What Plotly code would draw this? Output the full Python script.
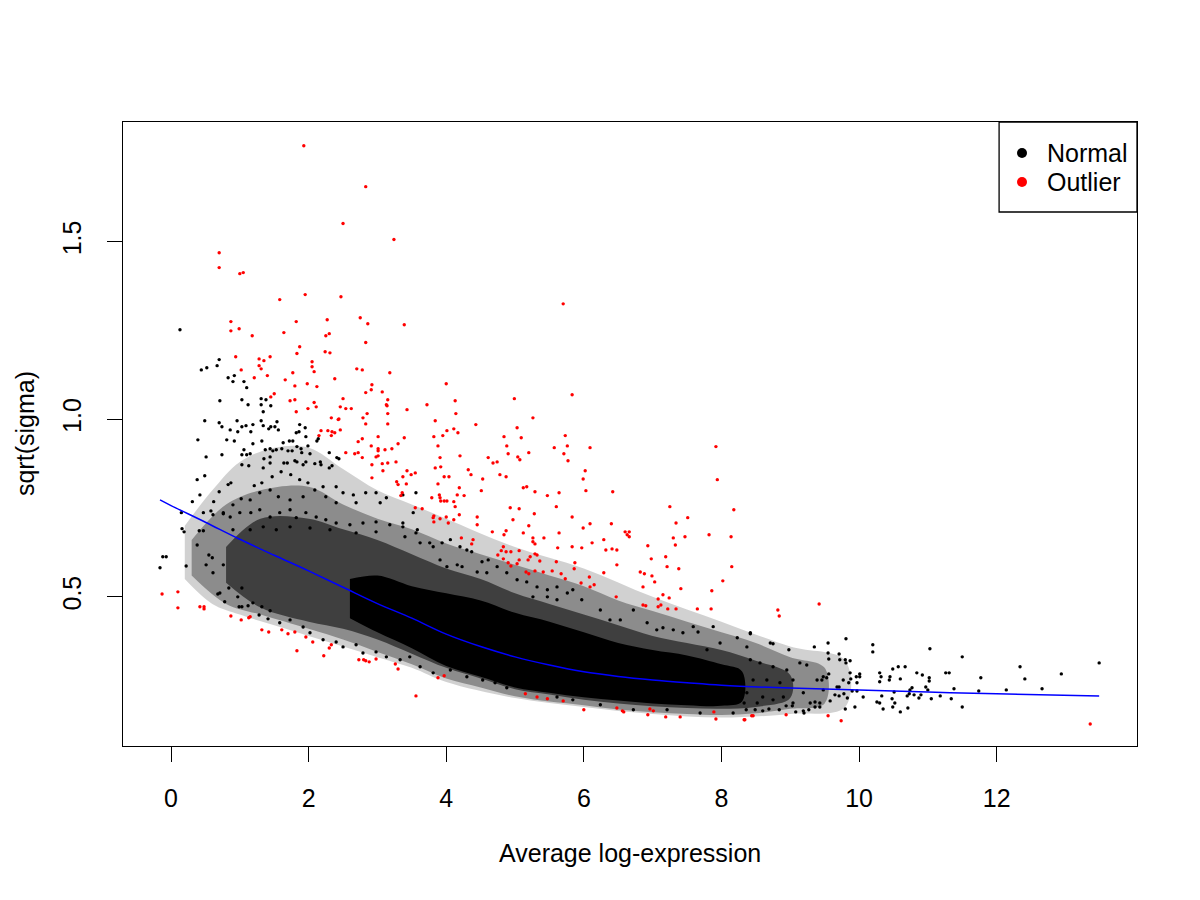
import plotly.graph_objects as go

# ---------------------------------------------------------------
# values (x = average log-expression,
# y = sqrt(sigma)).  The dense central cloud is given as density
# bands (upper / lower edge at a few x positions); the sparse points
# are listed one by one.
# ---------------------------------------------------------------

# outer haze of the cloud (~18 % ink)
haze_x = [0.2, 0.6, 1.0, 1.5, 2.0, 2.5, 3.0, 3.5, 4.0, 5.0, 6.0, 7.0, 8.0, 9.0, 9.8]
haze_top = [0.70, 0.80, 0.88, 0.92, 0.92, 0.86, 0.80, 0.76, 0.72, 0.64, 0.58, 0.50, 0.43, 0.36, 0.32]
haze_bot = [0.55, 0.48, 0.45, 0.42, 0.39, 0.36, 0.33, 0.30, 0.26, 0.215, 0.19, 0.17, 0.16, 0.17, 0.19]

# medium band (~45 % ink)
mid_x = [0.3, 0.8, 1.3, 2.0, 2.5, 3.0, 3.5, 4.0, 4.5, 5.0, 5.5, 6.0, 6.5, 7.0, 7.5, 8.0, 8.5, 9.0, 9.5]
mid_top = [0.66, 0.76, 0.80, 0.81, 0.76, 0.72, 0.69, 0.65, 0.62, 0.59, 0.56, 0.53, 0.49, 0.46,
           0.43, 0.40, 0.37, 0.33, 0.30]
mid_bot = [0.56, 0.48, 0.45, 0.41, 0.38, 0.345, 0.31, 0.27, 0.245, 0.22, 0.205, 0.195, 0.183,
           0.175, 0.17, 0.167, 0.172, 0.185, 0.20]

# dense band (~75 % ink)
dense_x = [0.8, 1.3, 2.0, 2.5, 3.0, 3.5, 4.0, 4.5, 5.0, 5.5, 6.0, 6.5, 7.0, 7.5, 8.0, 8.5, 9.0]
dense_top = [0.64, 0.72, 0.72, 0.69, 0.66, 0.62, 0.58, 0.55, 0.51, 0.48, 0.45, 0.42, 0.39, 0.37,
             0.35, 0.32, 0.28]
dense_bot = [0.54, 0.47, 0.43, 0.41, 0.38, 0.34, 0.30, 0.27, 0.24, 0.225, 0.21, 0.20, 0.192,
             0.187, 0.185, 0.19, 0.215]

# solid core
core_x = [2.6, 3.0, 3.5, 4.0, 4.5, 5.0, 5.5, 6.0, 6.5, 7.0, 7.5, 8.0, 8.3]
core_top = [0.55, 0.56, 0.53, 0.51, 0.49, 0.455, 0.43, 0.40, 0.37, 0.35, 0.335, 0.31, 0.29]
core_bot = [0.44, 0.40, 0.355, 0.305, 0.275, 0.245, 0.23, 0.217, 0.208, 0.20, 0.195, 0.193, 0.205]

# sparse "Normal" points, upper left
normal_upper_left = [
    (0.13, 1.252), (0.70, 1.168), (0.67, 1.151), (0.44, 1.139), (0.52, 1.145), (0.83, 1.117),
    (0.92, 1.123), (0.90, 1.106), (1.06, 1.106), (1.10, 1.089), (0.71, 1.052), (1.03, 1.055),
    (1.12, 1.041), (1.31, 1.058), (1.38, 1.055), (1.31, 1.041), (1.45, 1.038), (1.34, 1.021),
    (0.49, 0.996), (0.70, 0.990), (0.74, 0.979), (0.96, 0.996), (1.03, 0.979), (1.09, 0.982),
    (1.16, 0.965), (1.19, 0.985), (0.86, 0.970), (0.97, 0.965), (1.31, 0.996), (1.34, 0.982),
    (1.42, 0.973), (1.45, 0.979), (1.51, 0.979), (1.54, 0.993), (1.56, 0.970), (1.87, 0.985),
    (1.95, 0.976), (1.82, 0.962), (1.86, 0.965), (1.96, 0.951), (0.39, 0.942), (0.81, 0.942),
    (0.92, 0.939), (1.19, 0.931), (1.32, 0.939), (0.51, 0.894), (0.74, 0.900), (1.06, 0.914),
    (1.15, 0.903), (1.03, 0.900), (1.10, 0.900), (1.37, 0.914), (1.44, 0.917), (1.48, 0.911),
    (1.53, 0.914), (1.35, 0.889), (1.44, 0.894), (1.63, 0.934), (1.72, 0.939), (1.77, 0.939),
    (1.61, 0.917), (1.70, 0.911), (1.76, 0.911), (1.83, 0.923), (1.89, 0.917), (1.90, 0.906),
    (1.99, 0.925), (2.14, 0.945), (2.12, 0.939), (2.02, 0.903), (2.30, 0.906), (2.41, 0.892),
    (2.44, 0.889), (1.03, 0.872), (1.13, 0.869), (1.34, 0.863), (1.44, 0.877), (1.64, 0.877),
    (1.69, 0.877), (1.80, 0.883), (1.83, 0.880), (1.92, 0.872), (1.96, 0.880), (2.09, 0.875),
    (2.17, 0.880), (2.18, 0.872), (2.30, 0.863), (2.34, 0.869),
]

# sparse "Normal" points, left part of the cloud
normal_left = [
    (0.38, 0.830), (0.49, 0.841), (0.31, 0.768), (0.42, 0.787), (0.15, 0.737), (0.58, 0.742),
    (0.70, 0.796), (0.83, 0.816), (0.87, 0.821), (0.62, 0.768), (0.76, 0.734), (-0.16, 0.582),
    (-0.12, 0.613), (-0.07, 0.613), (0.22, 0.587), (0.16, 0.692), (0.19, 0.683), (0.38, 0.646),
    (0.41, 0.686), (0.47, 0.686), (0.51, 0.590), (0.55, 0.618), (0.60, 0.610), (0.61, 0.568),
    (0.76, 0.590), (0.68, 0.508), (0.71, 0.511), (0.78, 0.486), (0.84, 0.525), (0.97, 0.500),
    (1.03, 0.525), (0.99, 0.472), (1.03, 0.472), (1.12, 0.475), (1.19, 0.483), (1.28, 0.449),
    (1.32, 0.472), (1.41, 0.438), (1.44, 0.461),
    (1.21, 0.813), (1.32, 0.821), (1.47, 0.838), (1.60, 0.852), (1.74, 0.844), (1.87, 0.830),
    (1.99, 0.821), (2.09, 0.801), (2.21, 0.810), (2.40, 0.810), (2.50, 0.793), (2.65, 0.787),
    (2.83, 0.793), (2.98, 0.793), (3.13, 0.779), (3.37, 0.787), (3.56, 0.793), (0.90, 0.759),
    (1.02, 0.776), (1.15, 0.773), (1.29, 0.793), (1.44, 0.801), (1.56, 0.782), (1.73, 0.773),
    (1.92, 0.782), (2.25, 0.782), (2.40, 0.765), (2.69, 0.765), (3.04, 0.765),
    (0.47, 0.737), (0.61, 0.731), (0.76, 0.737), (0.86, 0.725), (1.00, 0.737), (1.16, 0.737),
    (1.29, 0.745), (1.44, 0.725), (1.58, 0.737), (1.73, 0.745), (1.82, 0.723), (1.96, 0.737),
    (2.11, 0.725), (2.25, 0.717), (2.40, 0.708), (2.60, 0.703), (2.79, 0.708), (2.98, 0.711),
    (3.18, 0.703), (3.37, 0.697), (3.56, 0.680), (0.90, 0.689), (1.15, 0.689), (1.34, 0.697),
    (1.53, 0.689), (1.73, 0.697), (2.02, 0.694), (2.31, 0.689), (2.69, 0.680), (2.98, 0.683),
    (1.58, 0.427), (1.73, 0.435), (1.92, 0.415), (2.02, 0.399), (2.21, 0.379), (2.40, 0.373),
    (2.50, 0.359), (2.69, 0.365), (2.79, 0.342), (2.98, 0.345), (3.13, 0.331), (3.33, 0.323),
    (3.47, 0.331),
]

# sparse "Normal" points above / below the middle of the cloud
normal_middle = [
    (3.52, 0.737), (3.37, 0.708), (3.58, 0.689), (3.40, 0.669), (3.62, 0.652), (3.76, 0.652),
    (3.81, 0.641), (3.94, 0.652), (4.06, 0.661), (4.20, 0.641), (4.30, 0.632), (4.37, 0.627),
    (4.52, 0.599), (4.61, 0.604), (3.91, 0.604), (4.01, 0.585), (4.16, 0.590), (4.23, 0.585),
    (4.45, 0.570), (4.59, 0.568), (4.74, 0.585), (4.88, 0.568), (5.03, 0.548), (5.17, 0.542),
    (5.32, 0.528), (5.47, 0.520), (5.61, 0.528), (5.76, 0.511), (5.84, 0.520), (5.97, 0.492),
    (5.61, 0.492), (5.47, 0.500), (5.26, 0.500), (6.24, 0.463), (6.38, 0.435), (6.53, 0.435),
    (6.72, 0.463), (6.92, 0.427), (7.06, 0.407), (7.15, 0.413), (7.30, 0.407), (7.44, 0.399),
    (7.59, 0.416), (7.66, 0.401), (7.88, 0.416), (8.42, 0.399), (8.23, 0.385), (8.37, 0.359),
    (7.98, 0.370), (7.79, 0.351),
    (4.71, 0.258), (4.88, 0.244), (5.61, 0.218), (5.84, 0.210), (6.24, 0.196), (6.72, 0.182),
    (7.21, 0.182), (7.69, 0.173), (8.17, 0.173), (3.62, 0.303), (3.81, 0.286), (4.06, 0.294),
    (4.30, 0.275), (4.53, 0.266),
]

# sparse "Normal" points, right tail
normal_right = [
    (8.42, 0.396), (9.81, 0.382), (9.55, 0.370), (9.35, 0.359), (8.98, 0.351), (8.71, 0.370),
    (8.75, 0.368), (10.20, 0.365), (10.20, 0.345), (11.03, 0.354), (11.50, 0.331), (13.49, 0.314),
    (12.34, 0.303), (12.94, 0.283), (12.41, 0.269), (11.77, 0.272), (12.66, 0.241), (12.14, 0.238),
    (11.74, 0.235), (11.50, 0.190), (11.38, 0.241), (11.34, 0.213), (11.18, 0.221), (11.31, 0.286),
    (11.26, 0.286), (11.02, 0.272), (11.02, 0.263), (10.92, 0.280), (10.84, 0.286), (10.97, 0.246),
    (11.00, 0.238), (11.05, 0.213), (10.90, 0.224), (10.74, 0.238), (10.77, 0.244), (10.67, 0.303),
    (10.57, 0.303), (10.49, 0.297), (10.60, 0.269), (10.44, 0.266), (10.45, 0.275), (10.30, 0.286),
    (10.32, 0.275), (10.30, 0.261), (10.33, 0.221), (10.35, 0.184), (10.49, 0.190), (10.60, 0.176),
    (10.71, 0.187), (10.52, 0.201), (10.48, 0.213), (10.26, 0.204), (10.30, 0.201), (10.51, 0.232),
    (10.70, 0.221), (10.73, 0.227), (10.80, 0.224), (10.87, 0.215), (10.06, 0.218), (10.01, 0.283),
    (9.96, 0.275), (9.88, 0.269), (9.85, 0.258), (9.94, 0.190), (9.80, 0.184), (9.97, 0.235),
    (9.90, 0.235), (9.83, 0.215), (9.78, 0.227), (9.77, 0.266), (9.81, 0.314), (9.87, 0.320),
    (9.80, 0.323), (9.72, 0.323), (9.71, 0.339), (9.55, 0.342), (9.56, 0.325), (9.48, 0.275),
    (9.46, 0.266), (9.53, 0.272), (9.56, 0.283), (9.71, 0.246), (9.71, 0.221), (9.65, 0.224),
    (9.58, 0.207), (9.43, 0.201), (9.43, 0.190), (9.36, 0.204), (9.36, 0.190), (9.27, 0.182),
    (9.19, 0.179), (9.20, 0.173), (9.08, 0.176), (9.03, 0.193), (8.94, 0.193), (8.84, 0.182),
    (8.69, 0.184), (8.60, 0.179), (8.49, 0.182), (8.36, 0.182), (8.33, 0.201),
    (8.42, 0.323), (8.56, 0.314), (8.75, 0.303), (8.95, 0.294), (9.14, 0.314), (9.24, 0.308),
    (9.39, 0.266), (9.04, 0.266), (8.85, 0.258), (8.66, 0.266), (8.46, 0.266), (8.37, 0.230),
    (8.60, 0.218), (8.90, 0.218), (9.19, 0.230), (9.48, 0.238), (9.68, 0.246), (9.87, 0.286),
    (9.97, 0.258), (10.01, 0.275), (9.29, 0.201), (9.04, 0.201), (8.75, 0.210), (8.52, 0.201),
]

# "Outlier" points
outlier_high = [
    (1.93, 1.770), (2.83, 1.655), (2.50, 1.551), (3.24, 1.506), (0.70, 1.469), (0.70, 1.427),
    (1.00, 1.410), (1.05, 1.413), (1.58, 1.337), (1.95, 1.351), (2.47, 1.345), (5.70, 1.325),
    (0.87, 1.275), (0.87, 1.249), (0.99, 1.255), (1.18, 1.235), (1.64, 1.244), (1.82, 1.275),
    (2.27, 1.280), (2.25, 1.235), (2.30, 1.241), (2.75, 1.286), (2.86, 1.269), (3.39, 1.266),
    (2.83, 1.216), (1.87, 1.204), (1.83, 1.185), (2.24, 1.190), (2.31, 1.187), (0.94, 1.176),
    (1.28, 1.170), (1.44, 1.176), (1.35, 1.165), (1.28, 1.151), (1.31, 1.142), (1.02, 1.139),
    (1.21, 1.117), (1.40, 1.123), (1.66, 1.111), (1.77, 1.131), (2.05, 1.162), (2.05, 1.148),
    (2.08, 1.134), (1.80, 1.094), (1.98, 1.100), (2.12, 1.092), (2.38, 1.114), (2.70, 1.142),
    (2.78, 1.139), (3.18, 1.131), (2.92, 1.097), (2.91, 1.083), (2.83, 1.075), (3.07, 1.077),
    (1.50, 1.072), (1.45, 1.063), (1.73, 1.052), (1.80, 1.055), (2.08, 1.047), (2.11, 1.035),
    (1.99, 1.030), (1.82, 1.021), (2.50, 1.058), (2.46, 1.035), (2.54, 1.030), (2.62, 1.030),
    (3.15, 1.055), (3.13, 1.041), (3.14, 1.038), (3.43, 1.027), (2.85, 1.016), (3.15, 1.016),
    (2.79, 1.004), (2.83, 0.987), (3.15, 0.987), (2.33, 1.004), (2.44, 1.001), (2.43, 0.999),
    (2.18, 0.968), (2.28, 0.968), (2.38, 0.962), (2.34, 0.965), (2.46, 0.970), (2.33, 0.954),
    (2.15, 0.954), (2.72, 0.937), (2.78, 0.945), (3.01, 0.951), (3.39, 0.948), (3.30, 0.931),
    (2.91, 0.925), (3.01, 0.917), (3.01, 0.911), (3.11, 0.914), (3.21, 0.917), (2.54, 0.906),
    (2.67, 0.903), (2.72, 0.906), (2.78, 0.892), (2.98, 0.894), (3.01, 0.897), (2.92, 0.872),
    (3.07, 0.875), (3.15, 0.877), (3.27, 0.880), (2.92, 0.835), (3.08, 0.855), (3.37, 0.838),
    (3.43, 0.855), (3.49, 0.844), (3.55, 0.849), (3.28, 0.824), (3.30, 0.816), (3.42, 0.818),
    (3.36, 0.793), (3.34, 0.785), (3.55, 0.751), (3.65, 0.748),
    (4.00, 1.100), (5.83, 1.069), (4.99, 1.058), (3.72, 1.041), (4.13, 1.052), (4.14, 1.016),
    (3.84, 0.996), (5.26, 1.004), (4.43, 0.985), (5.03, 0.976), (4.11, 0.973), (4.17, 0.962),
    (4.01, 0.968), (3.95, 0.954), (3.82, 0.951), (4.84, 0.951), (5.09, 0.948), (5.73, 0.954),
    (3.88, 0.925), (4.88, 0.925), (5.76, 0.925), (5.57, 0.920), (6.09, 0.920), (4.90, 0.903),
    (5.20, 0.906), (5.71, 0.903), (5.77, 0.883), (4.20, 0.897), (4.61, 0.892), (5.04, 0.894),
    (5.07, 0.886), (3.91, 0.892), (4.68, 0.877), (4.74, 0.880), (3.84, 0.863), (3.92, 0.866),
    (4.32, 0.858), (6.02, 0.855), (4.36, 0.844), (4.78, 0.844), (4.87, 0.838), (4.53, 0.832),
    (5.99, 0.832), (3.97, 0.838), (4.04, 0.838), (3.88, 0.818), (4.19, 0.807), (4.51, 0.799),
    (5.12, 0.807), (5.17, 0.810), (5.29, 0.796), (5.64, 0.793), (6.03, 0.799), (6.42, 0.796),
    (5.47, 0.785), (4.26, 0.785), (4.16, 0.787), (3.79, 0.779), (3.90, 0.787), (3.91, 0.779),
    (3.92, 0.770), (3.97, 0.770), (4.01, 0.770), (4.11, 0.768), (4.13, 0.754), (4.93, 0.751),
    (5.06, 0.748), (5.60, 0.754), (5.83, 0.725), (5.28, 0.734), (4.97, 0.717), (4.45, 0.725),
    (4.45, 0.703), (4.19, 0.731), (3.81, 0.723), (3.82, 0.711), (3.82, 0.728), (3.91, 0.720),
    (4.00, 0.725), (4.03, 0.708), (4.11, 0.717), (5.20, 0.700), (5.64, 0.680), (5.99, 0.694),
    (6.09, 0.706), (6.40, 0.706), (4.67, 0.683), (4.87, 0.686), (4.84, 0.675), (5.12, 0.680),
    (5.26, 0.666), (5.42, 0.666), (6.60, 0.683), (6.66, 0.683), (6.63, 0.675), (6.66, 0.669),
    (7.25, 0.754), (7.51, 0.723), (7.34, 0.708), (8.18, 0.745), (7.92, 0.923), (7.94, 0.830),
    (7.82, 0.675), (8.14, 0.669), (7.47, 0.669), (7.30, 0.666), (7.33, 0.646), (6.93, 0.644),
    (6.29, 0.661), (6.12, 0.652), (5.26, 0.655), (5.29, 0.649), (4.22, 0.666), (4.39, 0.661),
    (4.37, 0.649),
]

outlier_low = [
    (4.83, 0.641), (4.80, 0.630), (4.75, 0.618), (4.87, 0.627), (4.94, 0.627), (5.06, 0.630),
    (5.29, 0.621), (5.32, 0.618), (5.22, 0.613), (5.19, 0.604), (5.36, 0.601), (5.62, 0.638),
    (5.83, 0.641), (5.97, 0.638), (6.32, 0.632), (6.41, 0.635), (6.48, 0.632), (6.98, 0.607),
    (7.19, 0.613), (7.21, 0.585), (7.38, 0.579), (8.15, 0.585), (4.83, 0.607), (4.90, 0.596),
    (4.94, 0.587), (5.03, 0.593), (5.06, 0.604), (5.16, 0.570), (5.20, 0.565), (5.29, 0.573),
    (5.41, 0.570), (5.54, 0.573), (5.60, 0.599), (5.87, 0.596), (5.86, 0.579), (5.67, 0.565),
    (5.73, 0.551), (5.96, 0.539), (6.08, 0.556), (6.09, 0.528), (6.15, 0.534), (6.29, 0.568),
    (6.48, 0.590), (6.82, 0.570), (6.88, 0.565), (6.99, 0.559), (7.03, 0.542), (6.86, 0.528),
    (7.41, 0.523), (7.86, 0.517), (8.02, 0.545), (6.47, 0.500), (6.86, 0.477), (6.90, 0.475),
    (7.08, 0.494), (7.15, 0.506), (7.24, 0.497), (7.08, 0.472), (7.12, 0.477), (7.22, 0.466),
    (7.34, 0.466), (7.65, 0.466), (7.85, 0.466), (8.82, 0.463), (8.84, 0.446), (9.42, 0.480),
    (-0.13, 0.508), (0.10, 0.514), (0.10, 0.469), (0.42, 0.472), (0.48, 0.472), (0.48, 0.466),
    (0.87, 0.446), (1.02, 0.435), (1.13, 0.441), (1.15, 0.444), (1.32, 0.407), (1.42, 0.401),
    (1.61, 0.407), (1.70, 0.396), (1.80, 0.401), (1.96, 0.387), (2.06, 0.373), (1.83, 0.348),
    (2.22, 0.334), (2.30, 0.356), (2.33, 0.365), (2.73, 0.323), (2.80, 0.323), (2.83, 0.320),
    (2.88, 0.317), (2.98, 0.325), (3.26, 0.311), (3.30, 0.297), (3.56, 0.221), (3.88, 0.272),
    (3.97, 0.278), (5.15, 0.227), (5.32, 0.218), (5.47, 0.213), (5.70, 0.207), (6.00, 0.182),
    (6.48, 0.187), (6.56, 0.179), (6.58, 0.176), (6.93, 0.168), (7.01, 0.179), (6.96, 0.184),
    (7.19, 0.162), (7.40, 0.162), (7.92, 0.156), (7.89, 0.176), (8.34, 0.154), (8.46, 0.165),
    (8.33, 0.154), (8.44, 0.165), (8.94, 0.168), (9.55, 0.165), (9.74, 0.151), (13.36, 0.142),
]

# fitted trend (blue line)
trend_x = [-0.16, 0.0, 0.5, 1.0, 1.5, 2.0, 2.5, 3.0, 3.5, 4.0, 4.5, 5.0, 5.5, 6.0, 6.5, 7.0,
           7.5, 8.0, 9.0, 10.0, 11.0, 12.0, 13.49]
trend_y = [0.773, 0.757, 0.710, 0.662, 0.617, 0.573, 0.527, 0.481, 0.440, 0.395, 0.360, 0.331,
           0.308, 0.289, 0.276, 0.266, 0.258, 0.251, 0.243, 0.238, 0.232, 0.227, 0.221]

x_ticks = [0, 2, 4, 6, 8, 10, 12]
y_ticks = [0.5, 1.0, 1.5]
y_tick_labels = ["0.5", "1.0", "1.5"]

FONT = "Liberation Sans, Arial, Helvetica, sans-serif"
FS = 25


def band(xs, top, bot, color):
    return go.Scatter(x=xs + xs[::-1], y=top + bot[::-1], mode="lines", fill="toself",
                      fillcolor=color, line=dict(width=0), line_shape="spline",
                      hoverinfo="skip", showlegend=False)


def dots(pts, color):
    return go.Scatter(x=[p[0] for p in pts], y=[p[1] for p in pts], mode="markers",
                      marker=dict(size=3.4, color=color, line=dict(width=0)),
                      hoverinfo="skip", showlegend=False)


fig = go.Figure()
fig.add_trace(band(haze_x, haze_top, haze_bot, "rgba(0,0,0,0.18)"))
fig.add_trace(band(mid_x, mid_top, mid_bot, "rgba(0,0,0,0.33)"))
fig.add_trace(band(dense_x, dense_top, dense_bot, "rgba(0,0,0,0.55)"))
fig.add_trace(band(core_x, core_top, core_bot, "rgba(0,0,0,1)"))
for pts in (normal_upper_left, normal_left, normal_middle, normal_right):
    fig.add_trace(dots(pts, "black"))
fig.add_trace(dots(outlier_high, "red"))
fig.add_trace(dots(outlier_low, "red"))
fig.add_trace(go.Scatter(x=trend_x, y=trend_y, mode="lines", line=dict(color="blue", width=1.5),
                         line_shape="spline", hoverinfo="skip", showlegend=False))

axis_common = dict(showgrid=False, zeroline=False, showline=True, mirror=True,
                   linecolor="black", linewidth=1.3, ticks="outside", ticklen=15,
                   tickwidth=1.3, tickcolor="black",
                   tickfont=dict(family=FONT, size=FS, color="black"))

fig.update_xaxes(range=[-0.698, 14.04], tickvals=x_ticks, ticklabelstandoff=15, **axis_common)
fig.update_yaxes(range=[0.080, 1.837], tickvals=y_ticks, ticktext=y_tick_labels,
                 tickangle=-90, ticklabelstandoff=16, **axis_common)

# legend box (top right, drawn like base R legend())
fig.add_shape(type="rect", xref="paper", yref="paper", x0=0.864, x1=1.0, y0=0.8558, y1=1.0,
              line=dict(color="black", width=1.3), fillcolor="white", layer="above")
for yy, col, label in [(0.9503, "black", "Normal"), (0.9038, "red", "Outlier")]:
    fig.add_shape(type="circle", xref="paper", yref="paper", xsizemode="pixel",
                  ysizemode="pixel", xanchor=0.8866, yanchor=yy, x0=-5, x1=5, y0=-5, y1=5,
                  fillcolor=col, line=dict(width=0), layer="above")
    fig.add_annotation(x=0.9093, y=yy, xref="paper", yref="paper", text=label,
                       showarrow=False, xanchor="left", yanchor="middle",
                       font=dict(family=FONT, size=FS, color="black"))

# axis titles
fig.add_annotation(x=0.5, y=-0.1715, xref="paper", yref="paper", text="Average log-expression",
                   showarrow=False, xanchor="center", yanchor="middle",
                   font=dict(family=FONT, size=FS, color="black"))
fig.add_annotation(x=-0.0966, y=0.5, xref="paper", yref="paper", text="sqrt(sigma)",
                   showarrow=False, textangle=-90, xanchor="center", yanchor="middle",
                   font=dict(family=FONT, size=FS, color="black"))

# the page body has an 8px margin, so the figure is drawn 8px smaller
fig.update_layout(width=1192, height=892, margin=dict(l=115, r=63, t=114, b=154),
                  plot_bgcolor="white", paper_bgcolor="white", showlegend=False,
                  font=dict(family=FONT, size=FS, color="black"))

fig.write_html("out.html")
